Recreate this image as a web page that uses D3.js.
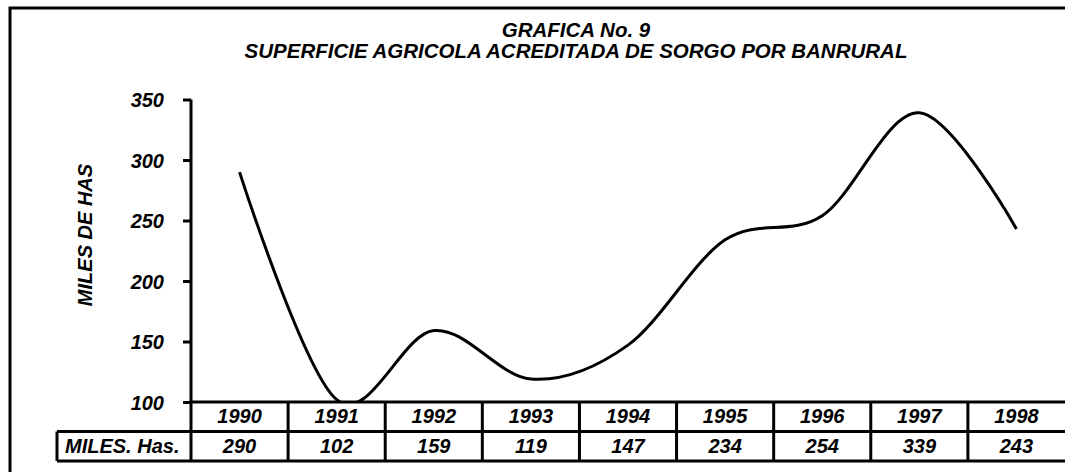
<!DOCTYPE html>
<html>
<head>
<meta charset="utf-8">
<script src="https://cdn.jsdelivr.net/npm/d3@7"></script>
<style>
  body { margin: 0; background: #fff; overflow: hidden; }
  svg { display: block; }
  text { font-family: Arial, "Liberation Sans", sans-serif; font-weight: bold; font-style: italic; fill: #000; }
</style>
</head>
<body>
<div id="chart"></div>
<script>
// chart data
var years = ["1990", "1991", "1992", "1993", "1994", "1995", "1996", "1997", "1998"];
var hectares = [290, 102, 159, 119, 147, 234, 254, 339, 243];
var yTicks = [100, 150, 200, 250, 300, 350];
var titleLines = ["GRAFICA No. 9", "SUPERFICIE AGRICOLA ACREDITADA DE SORGO POR BANRURAL"];

var W = 1065, H = 472;
var plotLeft = 191, plotRight = 1065, plotTop = 99.5, plotBottom = 402;
var rowH = 29.5;

var svg = d3.select("#chart")
.append("svg")
.attr("width", W)
.attr("height", H);

// outer frame (runs off the right and bottom edge)
svg.append("rect")
.attr("x", 10).attr("y", 8)
.attr("width", W + 20).attr("height", H + 20)
.attr("fill", "none").attr("stroke", "#000").attr("stroke-width", 3);

// title
svg.selectAll(".title")
.data(titleLines)
.enter().append("text")
.attr("class", "title")
.attr("x", 576)
.attr("y", function(d, i) { return 37 + i * 21; })
.attr("text-anchor", "middle")
.style("font-size", "20.5px")
.text(function(d) { return d; });

// scales
var x = d3.scaleBand().domain(years).range([plotLeft, plotRight]).padding(0);
var y = d3.scaleLinear().domain([100, 350]).range([plotBottom, plotTop]);

// clip so the smooth line does not go under the axis
svg.append("clipPath").attr("id", "plotclip")
.append("rect")
.attr("x", plotLeft).attr("y", plotTop - 5)
.attr("width", plotRight - plotLeft).attr("height", plotBottom - plotTop + 5);

var line = d3.line()
.x(function(d, i) { return x(years[i]) + x.bandwidth() / 2; })
.y(function(d) { return y(d); })
.curve(d3.curveCardinal.tension(0));

svg.append("path")
.datum(hectares)
.attr("clip-path", "url(#plotclip)")
.attr("fill", "none")
.attr("stroke", "#000")
.attr("stroke-width", 3)
.attr("stroke-linejoin", "round")
.attr("d", line);

// Y axis
var yAxis = svg.append("g")
.attr("transform", "translate(" + plotLeft + ",0)")
.call(d3.axisLeft(y).tickValues(yTicks).tickSize(8).tickSizeOuter(0).tickPadding(19));
yAxis.select(".domain").remove();
yAxis.selectAll(".tick line").attr("stroke", "#000").attr("stroke-width", 3);
yAxis.selectAll(".tick text")
.attr("dy", "0.36em")
.style("font-size", "20px")
.style("font-family", "Arial, 'Liberation Sans', sans-serif");

// Y axis title
svg.append("text")
.attr("transform", "translate(92,235) rotate(-90)")
.attr("text-anchor", "middle")
.style("font-size", "20px")
.text("MILES DE HAS");

// data table under the plot
var tableLines = svg.append("g")
.attr("stroke", "#000").attr("stroke-width", 3).attr("fill", "none");

// y axis line, continues through the table
tableLines.append("line")
.attr("x1", plotLeft).attr("x2", plotLeft)
.attr("y1", plotTop).attr("y2", plotBottom + rowH * 2);
// x axis / table top
tableLines.append("line")
.attr("x1", plotLeft).attr("x2", plotRight)
.attr("y1", plotBottom).attr("y2", plotBottom);
tableLines.append("line")
.attr("x1", 57).attr("x2", plotRight)
.attr("y1", plotBottom + rowH).attr("y2", plotBottom + rowH);
tableLines.append("line")
.attr("x1", 57).attr("x2", plotRight)
.attr("y1", plotBottom + rowH * 2).attr("y2", plotBottom + rowH * 2);
tableLines.append("line")
.attr("x1", 57).attr("x2", 57)
.attr("y1", plotBottom + rowH).attr("y2", plotBottom + rowH * 2);
tableLines.selectAll(".sep")
.data(years.slice(1))
.enter().append("line")
.attr("class", "sep")
.attr("x1", function(d) { return x(d); })
.attr("x2", function(d) { return x(d); })
.attr("y1", plotBottom).attr("y2", plotBottom + rowH * 2);

svg.selectAll(".yearlbl")
.data(years)
.enter().append("text")
.attr("class", "yearlbl")
.attr("x", function(d) { return x(d) + x.bandwidth() / 2; })
.attr("y", plotBottom + 21)
.attr("text-anchor", "middle")
.style("font-size", "20px")
.text(function(d) { return d; });

svg.selectAll(".vallbl")
.data(hectares)
.enter().append("text")
.attr("class", "vallbl")
.attr("x", function(d, i) { return x(years[i]) + x.bandwidth() / 2; })
.attr("y", plotBottom + rowH + 21)
.attr("text-anchor", "middle")
.style("font-size", "20px")
.text(function(d) { return d; });

svg.append("text")
.attr("x", 65)
.attr("y", plotBottom + rowH + 21)
.style("font-size", "20px")
.text("MILES. Has.");
</script>
</body>
</html>
